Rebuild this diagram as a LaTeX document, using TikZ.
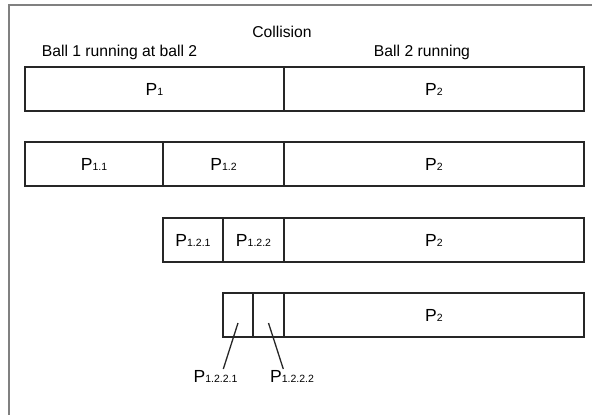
\documentclass[tikz,border=0pt]{standalone}
\usepackage{fontspec}
\setmainfont{Liberation Sans}
\begin{document}
\begin{tikzpicture}[x=1pt,y=-1pt,
  cell/.style={draw=black!85,line width=1.3pt,rectangle,minimum height=44pt,inner sep=0pt,anchor=center},
  heading/.style={anchor=base,inner sep=0pt,font=\fontsize{15.7}{18}\selectfont},
  callout/.style={anchor=north,inner sep=0pt},
  pointer/.style={draw=black!85,line width=1.3pt}]
% page area and frame
\useasboundingbox (0,0) rectangle (592,415);
\draw[gray,line width=1.5pt] (9,415) -- (9,5) -- (592,5);

\newcommand{\Pl}[1]{{\fontsize{17.5}{18}\selectfont P}{\fontsize{10.5}{12}\selectfont #1}}

% headings
\node[heading] (coll) at (282,37) {Collision};
\node[heading] (b1) at (119.5,56.5) {Ball 1 running at ball 2};
\node[heading] (b2) at (422,56.5) {Ball 2 running};

% row 1
\node[cell,minimum width=259pt] (r1a) at (154.5,89) {\Pl{1}};
\node[cell,minimum width=300pt] (r1b) at (434,89) {\Pl{2}};
% row 2
\node[cell,minimum width=138pt] (r2a) at (94,164) {\Pl{1.1}};
\node[cell,minimum width=121pt] (r2b) at (223.5,164) {\Pl{1.2}};
\node[cell,minimum width=300pt] (r2c) at (434,164) {\Pl{2}};
% row 3
\node[cell,minimum width=60pt] (r3a) at (193,240) {\Pl{1.2.1}};
\node[cell,minimum width=61pt] (r3b) at (253.5,240) {\Pl{1.2.2}};
\node[cell,minimum width=300pt] (r3c) at (434,240) {\Pl{2}};
% row 4
\node[cell,minimum width=30pt] (r4a) at (238,315) {};
\node[cell,minimum width=31pt] (r4b) at (268.5,315) {};
\node[cell,minimum width=300pt] (r4c) at (434,315) {\Pl{2}};

% callouts for the two smallest parts
\node[callout] (c1) at (215.5,370) {\Pl{1.2.2.1}};
\node[callout] (c2) at (292,370) {\Pl{1.2.2.2}};
\coordinate (p1) at ([yshift=-8pt]r4a.center);
\coordinate (p2) at ([yshift=-8pt]r4b.center);
\draw[pointer] (p1) -- ([xshift=7.8pt,yshift=1pt]c1.north);
\draw[pointer] (p2) -- ([xshift=-8.7pt,yshift=1pt]c2.north);
\end{tikzpicture}
\end{document}
